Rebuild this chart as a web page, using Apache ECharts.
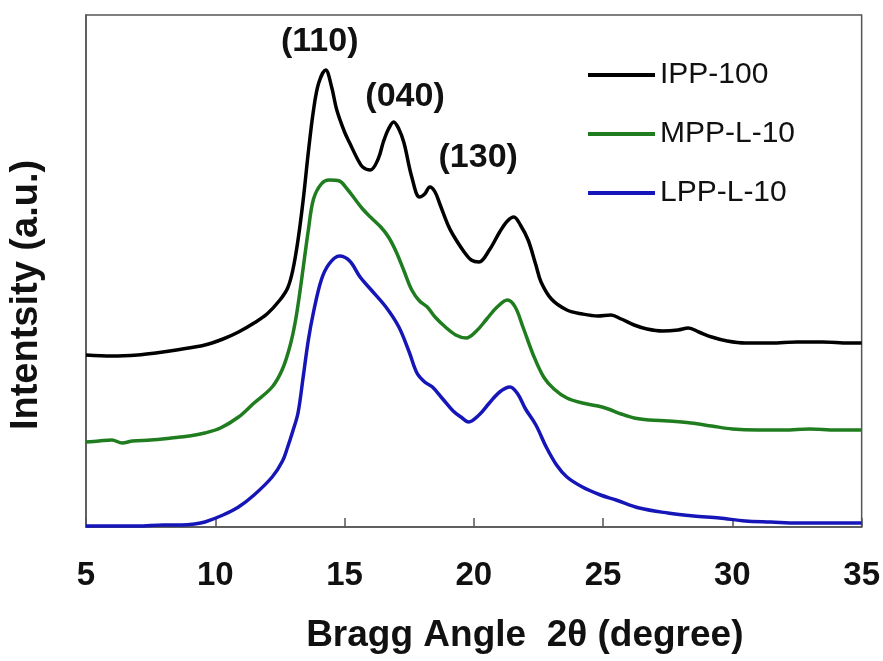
<!DOCTYPE html>
<html>
<head>
<meta charset="utf-8">
<script src="https://cdn.jsdelivr.net/npm/echarts@6/dist/echarts.min.js"></script>
<style>html,body{margin:0;padding:0;background:#fff;}#chart{width:883px;height:661px;}</style>
</head>
<body>
<div id="chart"></div>
<script>
// ---- data (x = 2θ in degrees, y = intensity in arbitrary units) ----
const ippX = [5, 6, 7, 7.7, 8.5, 9.6, 10.3, 10.9, 11.5, 12.0, 12.5, 12.8, 13.0, 13.2, 13.4, 13.6, 13.8, 14.0, 14.27, 14.5, 14.7, 15.0, 15.2, 15.5, 15.7, 16.0, 16.3, 16.5, 16.7, 16.9, 17.1, 17.3, 17.6, 17.9, 18.1, 18.3, 18.5, 18.7, 19.0, 19.2, 19.6, 19.9, 20.2, 20.6, 21.0, 21.3, 21.55, 21.8, 22.1, 22.4, 22.6, 23.0, 23.6, 24.2, 24.8, 25.3, 25.7, 26.2, 26.7, 27.3, 27.9, 28.3, 28.7, 29.2, 29.8, 30.5, 31.5, 32.5, 33.5, 34.5, 35];
const ippY = [172, 171, 172, 174, 177, 182, 188, 195, 204, 213, 227, 239, 257, 287, 327, 375, 417, 444, 457, 440, 417, 395, 384, 368, 360, 357, 368, 385, 398, 405, 398, 384, 350, 330, 333, 340, 335, 322, 302, 292, 276, 267, 265, 277, 295, 306, 310, 302, 287, 262, 245, 228, 217, 213, 211, 212, 208, 202, 198, 196, 197, 199, 195, 190, 186, 184, 184, 185, 185, 184, 184];

const mppX = [5, 5.5, 6.0, 6.4, 6.8, 7.5, 8.3, 9.0, 9.6, 10.2, 10.9, 11.5, 12.2, 12.6, 12.9, 13.1, 13.3, 13.6, 13.8, 14.1, 14.4, 14.8, 15.1, 15.4, 15.7, 16.0, 16.4, 16.7, 17.0, 17.3, 17.6, 17.9, 18.2, 18.5, 18.9, 19.3, 19.7, 20.1, 20.5, 20.9, 21.3, 21.6, 21.9, 22.3, 22.7, 23.1, 23.6, 24.2, 24.8, 25.2, 25.7, 26.2, 26.8, 27.5, 28.4, 29.2, 30.0, 31.0, 32.0, 33.0, 34.0, 35];
const mppY = [85, 86, 87, 84, 86, 87, 89, 91, 94, 99, 110, 124, 140, 158, 182, 206, 240, 297, 328, 343, 347, 346, 338, 328, 318, 310, 300, 290, 275, 256, 237, 226, 220, 210, 200, 192, 189, 196, 208, 220, 227, 220, 200, 172, 150, 138, 129, 124, 121, 118, 113, 109, 107, 106, 104, 101, 98, 97, 97, 98, 97, 97];

const lppX = [5, 6, 7, 8, 8.7, 9.2, 9.6, 10.3, 10.9, 11.5, 12.2, 12.6, 12.8, 13.0, 13.2, 13.4, 13.6, 13.8, 14.1, 14.4, 14.8, 15.2, 15.6, 16.0, 16.6, 17.1, 17.5, 17.8, 18.1, 18.4, 18.8, 19.2, 19.5, 19.8, 20.2, 20.6, 21.0, 21.4, 21.7, 22.0, 22.4, 22.8, 23.2, 23.6, 24.2, 24.9, 25.5, 26.4, 27.5, 28.5, 29.5, 30.5, 31.5, 32.5, 33.5, 35];
const lppY = [1, 1, 1, 2, 2, 3, 5, 12, 20, 32, 50, 66, 80, 96, 114, 150, 187, 215, 247, 263, 271, 266, 250, 238, 220, 200, 175, 154, 145, 140, 128, 116, 110, 105, 112, 124, 135, 140, 133, 118, 102, 80, 62, 50, 40, 32, 27, 19, 14, 11, 9, 6, 5, 4, 4, 4];

const seriesNames = ['IPP-100', 'MPP-L-10', 'LPP-L-10'];
const xTicks = [5, 10, 15, 20, 25, 30, 35];
const peakLabels = ['(110)', '(040)', '(130)'];
const peakX = [14.04, 17.34, 20.17];
const peakY = [485, 430, 369];

// ---- chart ----
const pair = (xs, ys) => xs.map((x, i) => [x, ys[i]]);
const colors = ['#000000', '#1f7d1f', '#1616b8'];
const font = '"Liberation Sans", Arial, sans-serif';

const chart = echarts.init(document.getElementById('chart'), null, {renderer: 'canvas'});
const lineSeries = [pair(ippX, ippY), pair(mppX, mppY), pair(lppX, lppY)].map((d, i) => ({
  name: seriesNames[i],
  type: 'line',
  data: d,
  showSymbol: false,
  smooth: 0.35,
  lineStyle: {color: colors[i], width: 3.5},
  itemStyle: {color: colors[i]},
  z: 3 - i
}));

lineSeries.push({
  type: 'scatter',
  name: 'peaks',
  data: peakX.map((x, i) => ({value: [x, peakY[i]], label: {formatter: peakLabels[i]}})),
  symbolSize: 1,
  itemStyle: {color: 'rgba(0,0,0,0)', opacity: 1},
  label: {show: true, position: 'inside', color: '#111', opacity: 1, fontSize: 34, fontWeight: 'bold', fontFamily: font},
  silent: true
});

chart.setOption({
  backgroundColor: '#fff',
  animation: false,
  grid: {left: 80, top: 15, right: 20, bottom: 134, show: true, borderColor: '#555', borderWidth: 1.5, backgroundColor: 'transparent'},
  legend: {
    data: seriesNames.map(n => ({name: n, icon: 'rect'})),
    orient: 'vertical',
    left: 583, top: 55,
    itemWidth: 67, itemHeight: 4,
    itemGap: 29,
    textStyle: {fontSize: 30, color: '#111', fontFamily: font},
    selectedMode: false
  },
  xAxis: {
    type: 'value', min: 5, max: 35, interval: 5,
    name: 'Bragg Angle  2θ (degree)', nameLocation: 'middle', nameGap: 90, nameMoveOverlap: false,
    nameTextStyle: {fontSize: 37, fontWeight: 'bold', color: '#111', fontFamily: font, padding: [0, 0, 0, 102]},
    axisLine: {show: true, lineStyle: {color: '#555', width: 1.5}},
    axisTick: {show: true, inside: true, length: 9, lineStyle: {color: '#555', width: 1.5}},
    axisLabel: {fontSize: 33, fontWeight: 'bold', color: '#111', fontFamily: font, margin: 32,
      formatter: v => xTicks.includes(v) ? String(v) : ''},
    splitLine: {show: false}
  },
  yAxis: {
    type: 'value', min: 0, max: 512,
    name: 'Intentsity (a.u.)', nameLocation: 'middle', nameGap: 40, nameRotate: 90,
    nameTextStyle: {fontSize: 38, fontWeight: 'bold', color: '#111', fontFamily: font, padding: [0, 48, 0, 0]},
    axisLine: {show: true, lineStyle: {color: '#555', width: 1.5}},
    axisTick: {show: false},
    axisLabel: {show: false},
    splitLine: {show: false}
  },
  series: lineSeries
});
</script>
</body>
</html>
